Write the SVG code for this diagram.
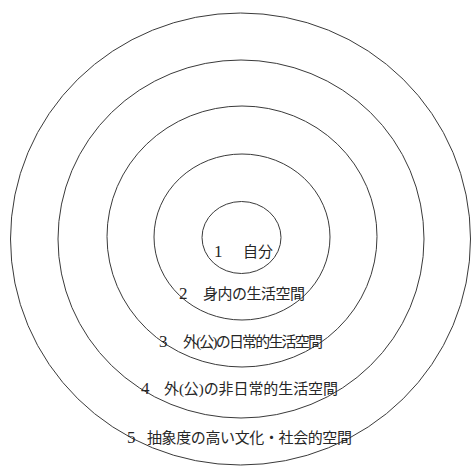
<svg xmlns="http://www.w3.org/2000/svg" width="473" height="470" viewBox="0 0 473 470">
<style>
.ring{fill:none;stroke:#3a3a3a;stroke-width:1}
.t{font-family:"Liberation Serif","Noto Sans CJK JP",serif;font-size:15px;fill:#262626}
.n{font-family:"Liberation Serif",serif;font-size:17px;fill:#262626}
</style>
<rect width="473" height="470" fill="#ffffff"/>
<g id="ring5">
<ellipse class="ring" cx="240.5" cy="239" rx="230" ry="226"/>
<text class="n" x="127" y="443">5</text>
<text class="t" x="147" y="443" textLength="205" lengthAdjust="spacing">抽象度の高い文化・社会的空間</text>
</g>
<g id="ring4">
<ellipse class="ring" cx="241" cy="239" rx="183" ry="179"/>
<text class="n" x="141" y="394">4</text>
<text class="t" x="164" y="394" textLength="174" lengthAdjust="spacing">外(公)の非日常的生活空間</text>
</g>
<g id="ring3">
<ellipse class="ring" cx="242" cy="236.5" rx="135" ry="130.5"/>
<text class="n" x="159" y="347">3</text>
<text class="t" x="183" y="347" textLength="140" lengthAdjust="spacing">外(公)の日常的生活空間</text>
</g>
<g id="ring2">
<ellipse class="ring" cx="242" cy="237" rx="88" ry="83"/>
<text class="n" x="179" y="299">2</text>
<text class="t" x="203" y="299" textLength="102" lengthAdjust="spacing">身内の生活空間</text>
</g>
<g id="ring1">
<ellipse class="ring" cx="241.5" cy="237.5" rx="39.5" ry="36"/>
<text class="n" x="214" y="257">1</text>
<text class="t" x="243" y="257" textLength="30" lengthAdjust="spacing">自分</text>
</g>
<g id="connectors"></g>
</svg>
